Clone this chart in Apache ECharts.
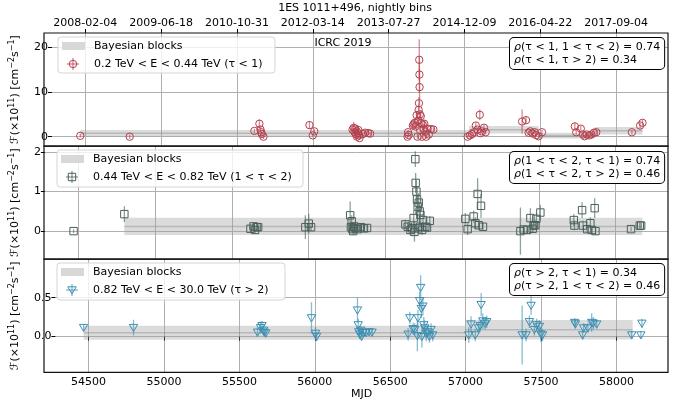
<!DOCTYPE html>
<html><head><meta charset="utf-8">
<script src="https://cdn.jsdelivr.net/npm/echarts@6/dist/echarts.min.js"></script>
<style>html,body{margin:0;padding:0;background:#fff}#c{width:674px;height:402px}</style>
</head><body><div id="c"></div>
<script>
// ---------------- data ----------------
const xTickValues = [54500, 55000, 55500, 56000, 56500, 57000, 57500, 58000];
const topDateLabels = ['2008-02-04','2009-06-18','2010-10-31','2012-03-14','2013-07-27','2014-12-09','2016-04-22','2017-09-04'];
const y1Ticks = [0, 10, 20];
const y2Ticks = [0, 1, 2];
const y3Ticks = [0, 0.5];

// panel 1 : 0.2 TeV < E < 0.44 TeV
const p1Mjd = [54467, 54793, 55615, 55648, 55655, 55660, 55664, 55675, 55978, 56000, 56010,
  56262, 56270, 56275, 56280, 56285, 56290, 56292, 56298, 56300, 56305, 56308, 56330, 56345, 56365, 56378,
  56625, 56628, 56632, 56660, 56665, 56672, 56678, 56685, 56690, 56695, 56698, 56700, 56702, 56703, 56704,
  56706, 56708, 56712, 56716, 56720, 56725, 56730, 56735, 56742, 56748, 56755, 56765, 56780, 56795,
  57021, 57036, 57050, 57064, 57075, 57086, 57101, 57105, 57114, 57129, 57140,
  57380, 57406, 57423, 57434, 57450, 57463, 57473, 57489, 57511,
  57728, 57737, 57767, 57782, 57793, 57806, 57822, 57837, 57854, 57869,
  58104, 58158, 58174];
const p1Flux = [0.2, 0.0, 1.3, 2.9, 1.6, 1.0, 0.6, 0.0, 2.6, 0.3, 1.2,
  1.6, 2.0, 1.0, 1.8, 0.5, 1.2, 0.0, 0.8, 1.5, 0.3, -0.3, 0.6, 0.9, 0.8, 0.7,
  0.0, 1.0, 0.4, 2.5, 2.8, 3.1, 2.3, 4.8, 0.0, 3.6, 6.0, 7.5, 17.2, 13.9, 11.1,
  5.0, 1.5, 4.6, 3.0, 0.0, 2.7, 1.8, 2.9, 1.1, 0.0, 1.8, 0.5, 1.7, 1.6,
  0.0, 0.3, 0.6, 1.0, 2.5, 1.6, 4.9, 0.8, 1.2, 2.0, 1.0,
  3.4, 3.7, 0.9, 1.2, 0.7, 1.0, 0.35, 0.1, 1.0,
  2.3, 1.0, 1.8, 0.5, 0.1, 0.5, 0.3, 0.5, 0.9, 1.0,
  1.0, 2.5, 3.1];
const p1Err = [0.4, 0.5, 0.5, 1.0, 0.5, 0.5, 0.4, 0.5, 0.9, 0.4, 0.5,
  0.5, 1.3, 0.5, 0.5, 0.4, 0.5, 0.4, 0.5, 0.5, 0.4, 0.4, 0.5, 0.5, 0.4, 0.4,
  0.5, 0.5, 0.5, 0.6, 0.7, 0.8, 0.6, 1.0, 0.6, 0.8, 1.2, 1.4, 4.6, 4.0, 4.0,
  1.0, 0.6, 1.0, 0.7, 0.5, 0.7, 0.6, 0.7, 0.5, 0.5, 0.5, 0.5, 0.5, 0.5,
  0.4, 0.4, 0.5, 0.5, 0.7, 0.5, 1.2, 0.5, 0.5, 0.6, 0.5,
  2.7, 0.7, 0.5, 0.5, 0.4, 0.5, 0.4, 0.4, 0.5,
  0.8, 0.5, 0.6, 0.5, 0.4, 0.5, 0.4, 0.5, 0.5, 0.5,
  0.5, 0.6, 0.7];

// panel 2 : 0.44 TeV < E < 0.82 TeV
const p2Mjd = [54467, 54798, 55620, 55640, 55650, 55660, 55670, 55978, 56000, 56015,
  56270, 56275, 56280, 56285, 56290, 56295, 56305, 56320, 56340, 56360, 56380,
  56630, 56645, 56663, 56674, 56684, 56689, 56695, 56697, 56702, 56706, 56710, 56712, 56717, 56723, 56725,
  56728, 56739, 56745, 56760, 56771, 56789,
  57021, 57036, 57075, 57086, 57101, 57108, 57123, 57136,
  57380, 57401, 57423, 57445, 57460, 57466, 57477, 57484, 57510,
  57728, 57732, 57782, 57788, 57815, 57836, 57846, 57864, 57869,
  58101, 58158, 58167];
const p2Flux = [0.0, 0.43, 0.06, 0.12, 0.03, 0.10, 0.10, 0.10, 0.19, 0.10,
  0.40, 0.10, 0.25, 0.05, 0.0, 0.12, 0.08, 0.05, 0.10, 0.07, 0.08,
  0.17, 0.11, 0.03, 0.07, 0.33, -0.02, 1.82, 1.22, 1.0, 0.8, 0.62, 0.07, 0.72, 0.5, 0.11,
  0.41, 0.03, 0.28, 0.11, 0.09, 0.26,
  0.31, 0.05, 0.37, 0.2, 0.94, 0.15, 0.64, 0.11,
  0.0, 0.04, 0.03, 0.33, 0.06, 0.14, 0.15, 0.31, 0.47,
  0.28, 0.14, 0.53, 0.14, 0.05, 0.2, 0.03, 0.58, 0.0,
  0.05, 0.14, 0.14];
const p2Err = [0.05, 0.2, 0.08, 0.1, 0.08, 0.1, 0.08, 0.3, 0.25, 0.1,
  0.35, 0.1, 0.15, 0.1, 0.1, 0.1, 0.1, 0.08, 0.1, 0.08, 0.08,
  0.12, 0.12, 0.15, 0.12, 0.2, 0.25, 0.2, 0.25, 0.3, 0.3, 0.3, 0.12, 0.25, 0.2, 0.12,
  0.2, 0.12, 0.15, 0.1, 0.1, 0.12,
  0.15, 0.15, 0.15, 0.15, 0.4, 0.12, 0.3, 0.1,
  0.6, 0.1, 0.1, 0.25, 0.1, 0.12, 0.12, 0.15, 0.2,
  0.15, 0.12, 0.2, 0.12, 0.1, 0.15, 0.1, 0.25, 0.1,
  0.05, 0.08, 0.08];

// panel 3 : 0.82 TeV < E < 30.0 TeV
const p3Mjd = [54467, 54798, 55620, 55640, 55650, 55660, 55665, 55675, 55978, 56005, 56012,
  56283, 56288, 56292, 56298, 56305, 56310, 56320, 56340, 56360, 56380,
  56619, 56630, 56652, 56663, 56680, 56684, 56695, 56702, 56706, 56710, 56717, 56723, 56728, 56739,
  56750, 56760, 56771, 56782,
  57021, 57036, 57064, 57086, 57097, 57103, 57114, 57129, 57140,
  57375, 57401, 57423, 57434, 57456, 57471, 57489, 57499, 57510,
  57723, 57728, 57776, 57782, 57811, 57836, 57847, 57869,
  58101, 58162, 58169];
const p3Flux = [0.115, 0.115, 0.055, 0.115, 0.14, 0.08, 0.055, 0.045, 0.24, 0.04, 0.0,
  0.34, 0.15, 0.06, 0.03, 0.08, 0.0, 0.05, 0.05, 0.06, 0.055,
  0.03, 0.24, 0.1, 0.09, 0.01, 0.24, 0.46, 0.63, 0.36, 0.0, 0.39, 0.15, 0.11, 0.04,
  0.06, 0.0, 0.09, 0.02,
  0.02, 0.16, 0.02, 0.11, 0.14, 0.41, 0.2, 0.17, 0.19,
  0.02, 0.02, 0.19, 0.40, 0.09, 0.15, 0.13, 0.03, 0.02,
  0.18, 0.16, 0.02, 0.11, 0.11, 0.18, 0.17, 0.16,
  0.02, 0.02, 0.17];
const p3Err = [0.04, 0.1, 0.06, 0.08, 0.06, 0.06, 0.05, 0.06, 0.2, 0.08, 0.06,
  0.16, 0.08, 0.06, 0.06, 0.06, 0.05, 0.06, 0.05, 0.05, 0.05,
  0.08, 0.08, 0.08, 0.08, 0.2, 0.1, 0.12, 0.16, 0.12, 0.14, 0.12, 0.1, 0.1, 0.1,
  0.08, 0.08, 0.08, 0.08,
  0.1, 0.1, 0.08, 0.08, 0.08, 0.15, 0.1, 0.08, 0.08,
  0.38, 0.08, 0.08, 0.12, 0.08, 0.08, 0.08, 0.1, 0.08,
  0.06, 0.06, 0.06, 0.06, 0.06, 0.12, 0.08, 0.06,
  0.05, 0.05, 0.06];

// Bayesian blocks
const b1Start = [54467, 57030, 57490, 57858];
const b1End   = [57030, 57490, 57858, 58174];
const b1Val   = [0.75, 1.55, 0.25, 1.35];
const b1Err   = [0.75, 0.85, 0.65, 0.85];
const b2Start = [54798];
const b2End   = [58175];
const b2Val   = [0.12];
const b2Err   = [0.22];
const b3Start = [54467, 57000];
const b3End   = [57000, 58108];
const b3Val   = [0.05, 0.087];
const b3Err   = [0.09, 0.125];

const seriesNames = ['0.2 TeV < E < 0.44 TeV (τ < 1)', '0.44 TeV < E < 0.82 TeV (1 < τ < 2)', '0.82 TeV < E < 30.0 TeV (τ > 2)'];
const corrTexts = [
  ['(τ < 1, 1 < τ < 2) = 0.74', '(τ < 1, τ > 2) = 0.34'],
  ['(1 < τ < 2, τ < 1) = 0.74', '(1 < τ < 2, τ > 2) = 0.46'],
  ['(τ > 2, τ < 1) = 0.34', '(τ > 2, 1 < τ < 2) = 0.46']
];

// ---------------- layout / style ----------------
const FONT = 'DejaVu Sans';
const colors = ['#b5404e', '#4a605c', '#3b90b3'];
const shapes = ['circle', 'square', 'triangle'];
const xMin = 54280, xMax = 58342;
const L = 44, R = 668, W = R - L;
const gridTop = [33, 146.1, 259.2], gridH = 113.1;
const yRanges = [[-2.1, 23.2], [-0.71, 2.15], [-0.46, 0.995]];
const yTicks = [y1Ticks, y2Ticks, y3Ticks];
const yIntervals = [10, 1, 0.5];
const yFmt = [v => String(Math.round(v)), v => String(Math.round(v)), v => v.toFixed(1)];
const yNameGap = [23, 10, 23];
const yName = 'ℱ(×10{s|11}) [cm{s|−2}s{s|−1}]';

function zip3(a, b, c) { return a.map((v, i) => [v, b[i], c[i]]); }
function zip4(a, b, c, d) { return a.map((v, i) => [v, b[i], c[i], d[i]]); }

function markerShape(shape, x, y, color, lw) {
  const st = { fill: 'none', stroke: color, lineWidth: lw || 1 };
  if (shape === 'circle') return { type: 'circle', shape: { cx: x, cy: y, r: 3.7 }, style: st };
  if (shape === 'square') return { type: 'rect', shape: { x: x - 3.7, y: y - 3.7, width: 7.4, height: 7.4 }, style: st };
  return { type: 'polygon', shape: { points: [[x - 4.2, y - 3.2], [x + 4.2, y - 3.2], [x, y + 4]] }, style: st };
}

function pointRenderer(shape, color) {
  return function (params, api) {
    const x = api.value(0), y = api.value(1), e = api.value(2);
    const c = api.coord([x, y]), t = api.coord([x, y + e]), b = api.coord([x, y - e]);
    return {
      type: 'group', children: [
        { type: 'line', shape: { x1: c[0], y1: t[1], x2: c[0], y2: b[1] }, style: { stroke: color, lineWidth: 1.3, opacity: 0.6 } },
        markerShape(shape, c[0], c[1], color, 1)
      ]
    };
  };
}

function blockRenderer(params, api) {
  const x0 = api.value(0), x1 = api.value(1), v = api.value(2), e = api.value(3);
  const p0 = api.coord([x0, v + e]), p1 = api.coord([x1, v - e]);
  const m0 = api.coord([x0, v]), m1 = api.coord([x1, v]);
  return {
    type: 'group', children: [
      { type: 'rect', shape: { x: p0[0], y: p0[1], width: p1[0] - p0[0], height: p1[1] - p0[1] }, style: { fill: 'rgba(160,160,160,0.38)' } },
      { type: 'line', shape: { x1: m0[0], y1: m0[1], x2: m1[0], y2: m1[1] }, style: { stroke: 'rgba(120,120,120,0.35)', lineWidth: 1.5 } }
    ]
  };
}

const grids = gridTop.map(t => ({ left: L, width: W, top: t, height: gridH, show: false }));

const xAxes = [0, 1, 2].map(i => ({
  type: 'value', gridIndex: i, min: xMin, max: xMax, minInterval: 500, maxInterval: 500, splitNumber: 8,
  axisLine: { show: false },
  axisTick: { show: i === 2, length: 4, customValues: xTickValues, lineStyle: { color: '#000', width: 1 } },
  axisLabel: { show: i === 2, customValues: xTickValues, fontFamily: FONT, fontSize: 11, color: '#000', margin: 4,
    formatter: v => String(v) },
  splitLine: { show: true, lineStyle: { color: '#b0b0b0', width: 1 } },
  name: i === 2 ? 'MJD' : '', nameLocation: 'middle', nameGap: 16,
  nameTextStyle: { fontFamily: FONT, fontSize: 11, color: '#000' }
}));
xAxes.push({
  type: 'value', gridIndex: 0, position: 'top', min: xMin, max: xMax, minInterval: 500, maxInterval: 500, splitNumber: 8,
  axisLine: { show: false },
  axisTick: { show: true, length: 4, customValues: xTickValues, lineStyle: { color: '#000', width: 1 } },
  axisLabel: { show: true, customValues: xTickValues, fontFamily: FONT, fontSize: 11, color: '#000', margin: 4,
    formatter: v => topDateLabels[xTickValues.indexOf(v)] || '' },
  splitLine: { show: false }
});

const yAxes = [0, 1, 2].map(i => ({
  type: 'value', gridIndex: i, min: yRanges[i][0], max: yRanges[i][1],
  minInterval: yIntervals[i], maxInterval: yIntervals[i],
  axisLine: { show: false },
  axisTick: { show: true, length: 4, customValues: yTicks[i], lineStyle: { color: '#000', width: 1 } },
  axisLabel: { customValues: yTicks[i], fontFamily: FONT, fontSize: 11, color: '#000', margin: 4, formatter: yFmt[i] },
  splitLine: { show: true, lineStyle: { color: '#b0b0b0', width: 1 } },
  name: yName, nameLocation: 'middle', nameRotate: 90, nameGap: yNameGap[i],
  nameTextStyle: { fontFamily: FONT, fontSize: 11, color: '#000', lineHeight: 15, verticalAlign: 'middle',
    rich: { s: { fontFamily: FONT, fontSize: 8, lineHeight: 15, verticalAlign: 'top', padding: [0, 0, 0, 0] } } }
}));

const pData = [zip3(p1Mjd, p1Flux, p1Err), zip3(p2Mjd, p2Flux, p2Err), zip3(p3Mjd, p3Flux, p3Err)];
const bData = [zip4(b1Start, b1End, b1Val, b1Err), zip4(b2Start, b2End, b2Val, b2Err), zip4(b3Start, b3End, b3Val, b3Err)];

const series = [];
[0, 1, 2].forEach(i => {
  series.push({ type: 'custom', name: 'Bayesian blocks', xAxisIndex: i, yAxisIndex: i, clip: true, z: 2,
    renderItem: blockRenderer, data: bData[i], encode: { x: [0, 1], y: 2 }, silent: true });
  series.push({ type: 'custom', name: seriesNames[i], xAxisIndex: i, yAxisIndex: i, clip: true, z: 3,
    renderItem: pointRenderer(shapes[i], colors[i]), data: pData[i], encode: { x: 0, y: 1 }, silent: true });
});

// ---------------- decorations (legends, boxes, frame, texts) ----------------
const graphic = [];
graphic.push({ type: 'text', z: 100, style: { text: '1ES 1011+496, nightly bins', x: 355, y: 8, align: 'center', verticalAlign: 'middle', font: '11px "DejaVu Sans"', fill: '#000' } });
graphic.push({ type: 'text', z: 100, style: { text: 'ICRC 2019', x: 343, y: 43, align: 'center', verticalAlign: 'middle', font: '11px "DejaVu Sans"', fill: '#000' } });

const legBox = [[58, 37, 217, 36], [57, 150, 246, 37], [57, 263, 228, 37]];
const corrBox = [[510, 38], [510, 152], [510, 264]];
[0, 1, 2].forEach(i => {
  graphic.push({ type: 'rect', z: 90, shape: { x: L, y: gridTop[i], width: W, height: gridH }, style: { fill: 'none', stroke: '#111', lineWidth: 1.2 } });
  const [bx, by, bw, bh] = legBox[i];
  const r1 = by + 9, r2 = by + 27;
  graphic.push({ type: 'rect', z: 95, shape: { x: bx, y: by, width: bw, height: bh, r: 3 }, style: { fill: 'rgba(255,255,255,0.8)', stroke: '#d5d5d5', lineWidth: 1 } });
  graphic.push({ type: 'rect', z: 96, shape: { x: bx + 4, y: r1 - 4, width: 23, height: 8 }, style: { fill: '#d8d8d8' } });
  graphic.push({ type: 'text', z: 96, style: { text: 'Bayesian blocks', x: bx + 36, y: r1, verticalAlign: 'middle', font: '11px "DejaVu Sans"', fill: '#000' } });
  const mx = bx + 15;
  graphic.push({ type: 'line', z: 96, shape: { x1: mx, y1: r2 - 6, x2: mx, y2: r2 + 6 }, style: { stroke: colors[i], lineWidth: 1.2, opacity: 0.7 } });
  graphic.push({ type: 'line', z: 96, shape: { x1: mx - 6, y1: r2, x2: mx + 6, y2: r2 }, style: { stroke: colors[i], lineWidth: 1.2, opacity: 0.7 } });
  const m = markerShape(shapes[i], mx, r2, colors[i], 1); m.z = 97;
  graphic.push(m);
  graphic.push({ type: 'text', z: 96, style: { text: seriesNames[i], x: bx + 36, y: r2, verticalAlign: 'middle', font: '11px "DejaVu Sans"', fill: '#000' } });
  const [cx, cy] = corrBox[i];
  graphic.push({ type: 'text', z: 98, style: {
    text: '{i|ρ}' + corrTexts[i][0] + '\n{i|ρ}' + corrTexts[i][1],
    x: cx, y: cy, align: 'left', verticalAlign: 'top',
    font: '11px "DejaVu Sans"', fill: '#000', lineHeight: 13,
    backgroundColor: '#fff', borderColor: '#000', borderWidth: 1, borderRadius: 4, padding: [3, 4, 2, 4],
    rich: { i: { fontStyle: 'italic', fontFamily: FONT, fontSize: 11, lineHeight: 13 } }
  } });
});

const chart = echarts.init(document.getElementById('c'), null, { renderer: 'canvas' });
chart.setOption({
  animation: false,
  backgroundColor: '#fff',
  textStyle: { fontFamily: FONT },
  grid: grids,
  xAxis: xAxes,
  yAxis: yAxes,
  series: series,
  graphic: graphic
});
</script></body></html>
